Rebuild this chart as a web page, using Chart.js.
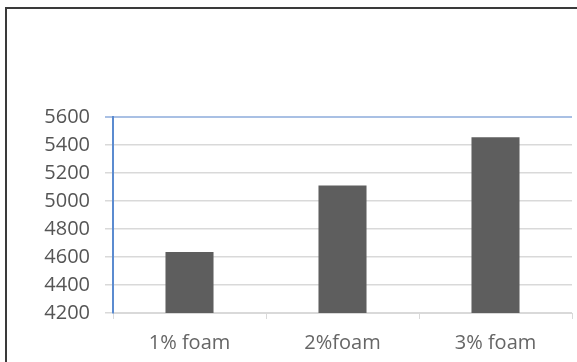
<!DOCTYPE html>
<html>
<head>
<meta charset="utf-8">
<script src="https://cdn.jsdelivr.net/npm/chart.js@4/dist/chart.umd.min.js"></script>
<style>
  html, body { margin: 0; padding: 0; background: #fff; overflow: hidden; }
  #frame {
    position: absolute; left: 5px; top: 7px;
    width: 700px; height: 500px;
    border: 2px solid #3a3a3a;
  }
  #wrap { position: absolute; left: 0; top: 0; width: 577px; height: 362px; }
</style>
</head>
<body>
<div id="frame"></div>
<div id="wrap"><canvas id="grafico"></canvas></div>
<script>
const categorias = ['1% foam', '2%foam', '3% foam'];
const valores = [4635, 5110, 5455];
const ticksY = [4200, 4400, 4600, 4800, 5000, 5200, 5400, 5600];

const fonte = { family: '"Open Sans", sans-serif', size: 20 };

const config = {
    type: 'bar',
    data: {
        labels: categorias,
        datasets: [{
            data: valores,
            backgroundColor: '#5e5e5e',
            barPercentage: 0.314,
            categoryPercentage: 1
        }]
    },
    options: {
        responsive: true,
        maintainAspectRatio: false,
        animation: false,
        layout: { padding: { top: 117, right: 5, left: 0, bottom: 0 } },
        plugins: {
            legend: { display: false },
            tooltip: { enabled: false }
        },
        scales: {
            x: {
                afterFit(scale) { scale.height = 49; },
                grid: {
                    offset: true,
                    drawOnChartArea: false,
                    color: '#d9d9d9',
                    tickLength: 6
                },
                border: { color: '#d9d9d9', width: 1 },
                ticks: { color: '#666666', font: fonte, padding: 12 }
            },
            y: {
                min: 4200,
                max: 5600,
                afterFit(scale) { scale.width = 113; },
                afterBuildTicks(scale) { scale.ticks = ticksY.map(v => ({ value: v })); },
                grid: {
                    color: ctx => (ctx.tick && ctx.tick.value === 5600) ? '#a9c0e4' : '#d9d9d9',
                    lineWidth: ctx => (ctx.tick && ctx.tick.value === 5600) ? 2 : 1.5,
                    tickLength: 8
                },
                border: { color: '#5b8bd0', width: 2 },
                ticks: {
                    color: '#555555',
                    font: fonte,
                    padding: 15,
                    callback: v => String(v)
                }
            }
        }
    }
};

new Chart(document.getElementById('grafico'), config);
</script>
</body>
</html>
